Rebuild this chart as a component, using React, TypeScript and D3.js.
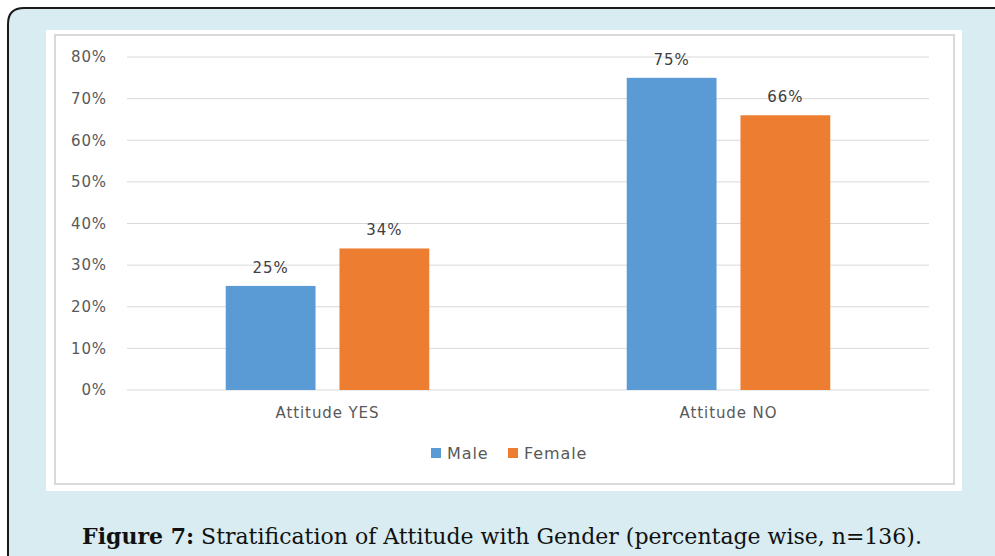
import React from "react";
import * as d3 from "d3";

const categories = ["Attitude YES", "Attitude NO"];
const seriesNames = ["Male", "Female"];
const maleValues = [25, 75];
const femaleValues = [34, 66];
const yTicks = [0, 10, 20, 30, 40, 50, 60, 70, 80];
const colors = ["#5b9bd5", "#ed7d31"];

const W = 995;
const H = 556;
const plot = { left: 127, right: 929, top: 57, bottom: 390 };
const font = "'DejaVu Sans', Verdana, sans-serif";
const spacing = 0.9;

export default function App() {
  const x0 = d3.scaleBand().domain(categories).range([plot.left, plot.right]).paddingInner(0).paddingOuter(0);
  const x1 = d3.scaleBand().domain(seriesNames).range([0, x0.bandwidth()]).paddingInner(0.2105).paddingOuter(0.868);
  const y = d3.scaleLinear().domain([0, 80]).range([plot.bottom, plot.top]);
  const series = [maleValues, femaleValues];

  return (
    <svg width={W} height={H} style={{ position: "absolute", left: 0, top: 0 }}>
      <rect x={0} y={0} width={W} height={H} fill="#ffffff" />
      <path
        d={`M8,${H + 10} L8,24 Q8,8 24,8 L${W + 10},8 L${W + 10},${H + 10} Z`}
        fill="#d8ecf1"
        stroke="#1a1a1a"
        strokeWidth={2}
      />
      <rect x={46} y={30} width={916} height={461} fill="#ffffff" />
      <rect x={55} y={35} width={899} height={449} fill="#ffffff" stroke="#d9d9d9" strokeWidth={2} />

      {yTicks.map((t) => (
        <g key={t}>
          <line x1={plot.left} x2={plot.right} y1={y(t)} y2={y(t)} stroke="#d9d9d9" strokeWidth={1} />
          <text x={107} y={y(t)} dy="0.35em" textAnchor="end" fontFamily={font} fontSize={15} letterSpacing={spacing} fill="#595959">
            {t}%
          </text>
        </g>
      ))}

      {categories.map((c, ci) => (
        <g key={c}>
          {seriesNames.map((s, si) => {
            const v = series[si][ci];
            const bx = (x0(c) as number) + (x1(s) as number);
            return (
              <g key={s}>
                <rect x={bx} y={y(v)} width={x1.bandwidth()} height={y(0) - y(v)} fill={colors[si]} />
                <text x={bx + x1.bandwidth() / 2} y={y(v) - 13} textAnchor="middle" fontFamily={font} fontSize={15} letterSpacing={spacing} fill="#404040">
                  {v}%
                </text>
              </g>
            );
          })}
          <text x={(x0(c) as number) + x0.bandwidth() / 2} y={418} textAnchor="middle" fontFamily={font} fontSize={15} letterSpacing={spacing} fill="#595959">
            {c}
          </text>
        </g>
      ))}

      {seriesNames.map((s, si) => {
        const lx = si === 0 ? 431 : 508;
        return (
          <g key={s}>
            <rect x={lx} y={448} width={10} height={10} fill={colors[si]} />
            <text x={lx + 16} y={459} fontFamily={font} fontSize={16} letterSpacing={spacing} fill="#595959">
              {s}
            </text>
          </g>
        );
      })}

      <text x={502} y={544} textAnchor="middle" fontFamily="'DejaVu Serif', serif" fontSize={22} fill="#111111">
        <tspan fontWeight="bold">Figure 7:</tspan>
        <tspan> Stratification of Attitude with Gender (percentage wise, n=136).</tspan>
      </text>
    </svg>
  );
}
